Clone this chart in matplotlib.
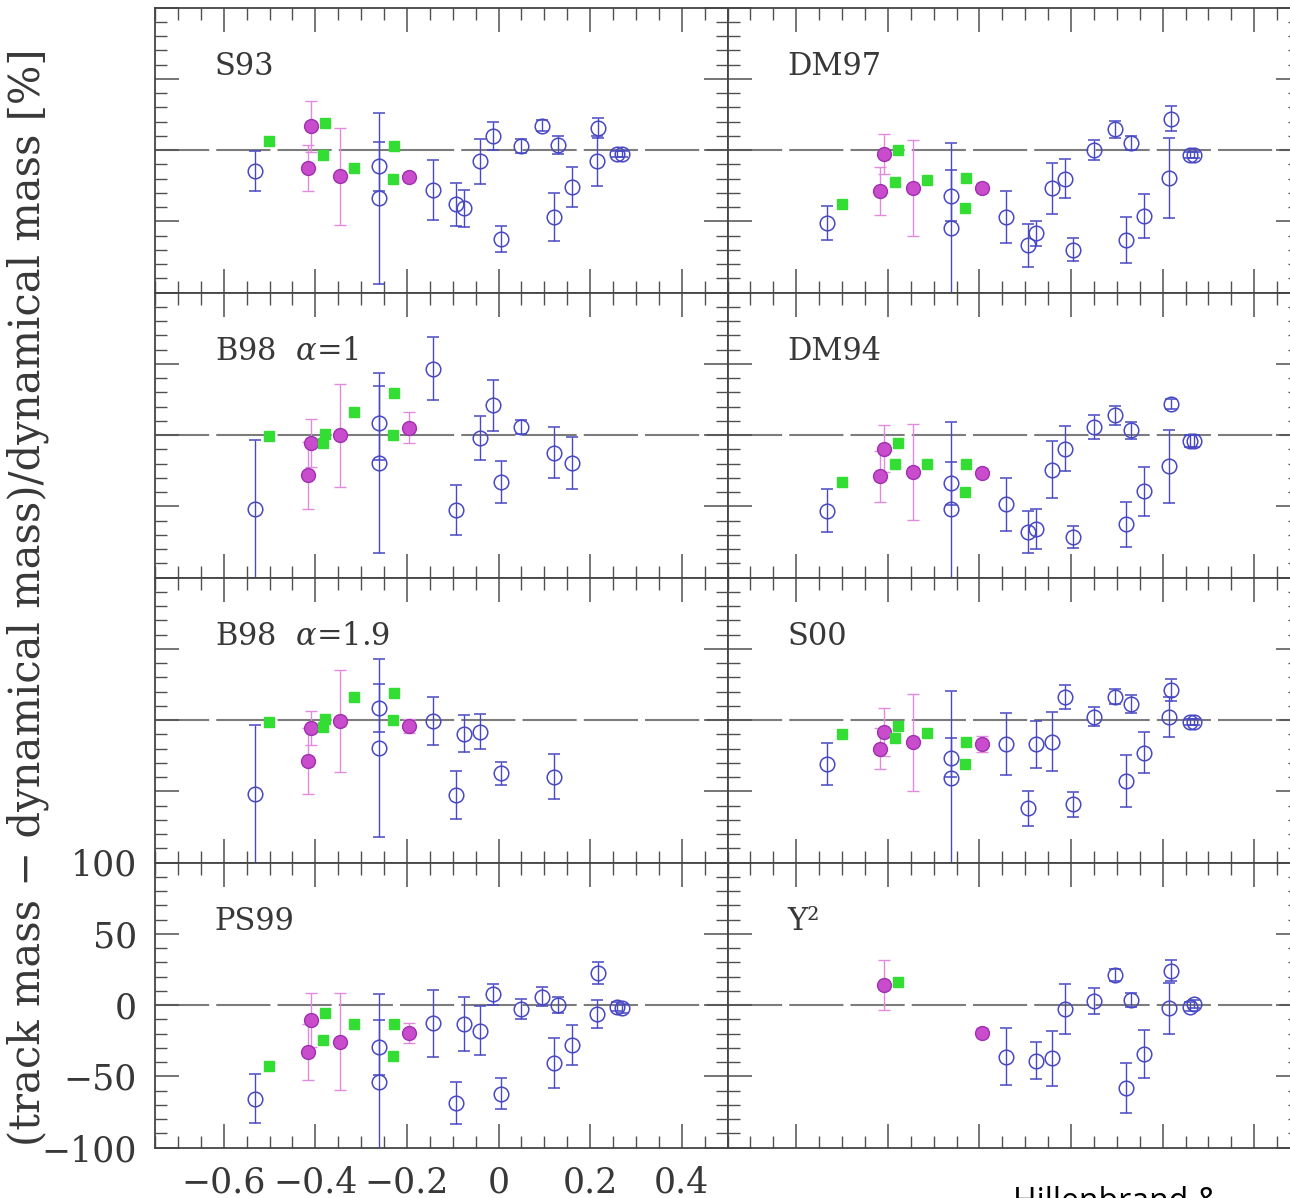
import numpy as np
import matplotlib
matplotlib.use("Agg")
import matplotlib.pyplot as plt
from matplotlib.ticker import FixedLocator, MultipleLocator, FixedFormatter

plt.rcParams['font.family'] = ['DejaVu Serif']
plt.rcParams['mathtext.fontset'] = 'dejavuserif'

nan = np.nan

# ---- star positions (shared by all model panels) ----
blue_x = [-0.532, -0.262, -0.262, -0.143, -0.093, -0.076, -0.041, -0.013, 0.005,
          0.050, 0.095, 0.121, 0.131, 0.160, 0.215, 0.218, 0.259, 0.269]
magenta_x = [-0.409, -0.416, -0.345, -0.195]
green_x = [-0.501, -0.378, -0.384, -0.315, -0.229, -0.231]

# ---- S93 ----
S93_blue_y = [-15, -11.5, -34, -28, -38, -41, -8, 10, -62.5, 3, 17, -47, 3.5, -26, -8, 15.5, -3, -3]
S93_blue_err = [14, 17, 60, 21, 15, 13, 16, 10, 9, 5, 4, 17, 6, 14, 17.5, 7, 2, 2]
S93_mag_y = [16.6, -12.6, -18.4, -18.9]
S93_mag_err = [18, 16, 34, 3]
S93_green_y = [6.2, 19, -3.4, -12.6, 3, -20.7]

# ---- DM97 ----
DM97_blue_y = [-51, -32, -55, -47, -67, -58.5, -27, -20, -70, 0, 14.5, -63, 5, -46.5, -19.5, 22, -3.7, -3.7]
DM97_blue_err = [12, 18, 60, 18, 15, 9, 18, 13.5, 8, 6.8, 6, 16, 5, 15.5, 28, 8.7, 2, 2]
DM97_mag_y = [-3, -28.7, -26.4, -26.4]
DM97_mag_err = [14, 17, 33.6, 3]
DM97_green_y = [-38, 0.2, -22.4, -21.3, -19.4, -40.7]

# ---- B98 alpha = 1 ----
B98a1_blue_y = [-51.8, 8.4, -19.7, 46.6, -52.5, nan, -1.9, 20.8, -33, 5.6, nan, -12.4, nan, -19.7,
                nan, nan, nan, nan]
B98a1_blue_err = [48.5, 26, 63, 22, 17.5, nan, 15.5, 18, 15, 5, nan, 18, nan, 18, nan, nan, nan, nan]
B98a1_mag_y = [-5.6, -28.3, -0.2, 5.2]
B98a1_mag_err = [17, 23.5, 36, 11]
B98a1_green_y = [-1, 1, -5.6, 16, 29.7, -0.2]

# ---- DM94 ----
DM94_blue_y = [-53, -34, -51.8, -48.7, -68, -65.8, -24.4, -9.6, -71.7, 5.6, 13.8, -62.8, 3.3, -39.6,
               -22, 21.5, -4.2, -4.2]
DM94_blue_err = [15, 15, 61, 18.6, 15, 14, 20, 16, 7.5, 8.5, 6.5, 16, 5.8, 17, 25.5, 3.5, 4, 4]
DM94_mag_y = [-9.6, -29, -26, -26.7]
DM94_mag_err = [16.4, 18, 33.7, 3]
DM94_green_y = [-33, -5.4, -20, -20.6, -20.6, -40]

# ---- B98 alpha = 1.9 ----
B98a19_blue_y = [-52, 8.6, -19.9, -0.7, -52.6, -9.8, -8.2, nan, -37.4, nan, nan, -39.7, nan, nan,
                 nan, nan, nan, nan]
B98a19_blue_err = [48.5, 17, 62.5, 17, 17, 13, 12.5, nan, 8, nan, nan, 16, nan, nan, nan, nan, nan, nan]
B98a19_mag_y = [-5.8, -28.7, -0.7, -4.2]
B98a19_mag_err = [12, 23, 35.6, 5]
B98a19_green_y = [-1.6, 0.7, -5.1, 16.4, 19.2, 0]

# ---- S00 ----
S00_blue_y = [-31, -26.4, -40.9, -17, -62, -17, -15.2, 15.9, -59, 2.3, 16.4, -42.8, 11, -22.9,
              2.3, 21, -1.6, -1.6]
S00_blue_err = [14.6, 13.5, 61, 21.6, 12.5, 16.6, 20.5, 8.4, 8.8, 6.7, 5.4, 18, 6.2, 14.4, 14, 8, 2, 2]
S00_mag_y = [-8.6, -20.3, -15.7, -16.8]
S00_mag_err = [17, 14.4, 34, 5.8]
S00_green_y = [-9.8, -4, -12.4, -8.9, -15.2, -30.8]

# ---- PS99 ----
PS99_blue_y = [-65.7, -29.8, -54, -12.9, -68.8, -13.4, -18, 7.5, -62.2, -3, 5.9, -40.6, 0, -28.2,
               -6.3, 22.3, -1.2, -2.3]
PS99_blue_err = [17, 19, 62, 23.5, 15, 18.8, 17, 7.4, 11, 7, 6.5, 17.4, 5.9, 14, 10, 7.9, 3, 3]
PS99_mag_y = [-10.6, -32.9, -25.8, -19.5]
PS99_mag_err = [19, 19.7, 34, 7]
PS99_green_y = [-42.7, -5.9, -24.6, -13.6, -13.6, -35.9]

# ---- Y^2 ----
Y2_blue_y = [nan, nan, nan, -36.3, nan, -39, -37.5, -3, nan, 3, 21, -58, 3.5, -34.4, -2.3, 24, -1.2, 0.7]
Y2_blue_err = [nan, nan, nan, 20, nan, 13, 19, 17.6, nan, 9, 4, 17.6, 4.7, 17, 18, 7.3, 3, 3]
Y2_mag_y = [14, nan, nan, -19.4]
Y2_mag_err = [17.3, nan, nan, 3]
Y2_green_y = [nan, 16, nan, nan, nan, nan]

panel_titles = ["S93", "DM97", r"B98  $\alpha$=1", "DM94", r"B98  $\alpha$=1.9", "S00", "PS99", "Y\u00b2"]

x_tick_values = [-0.6, -0.4, -0.2, 0.0, 0.2, 0.4]
x_tick_labels = ["\u22120.6", "\u22120.4", "\u22120.2", "0", "0.2", "0.4"]
y_tick_values = [-100, -50, 0, 50, 100]
y_tick_labels = ["\u2212100", "\u221250", "0", "50", "100"]

panels = [
    (S93_blue_y, S93_blue_err, S93_mag_y, S93_mag_err, S93_green_y),
    (DM97_blue_y, DM97_blue_err, DM97_mag_y, DM97_mag_err, DM97_green_y),
    (B98a1_blue_y, B98a1_blue_err, B98a1_mag_y, B98a1_mag_err, B98a1_green_y),
    (DM94_blue_y, DM94_blue_err, DM94_mag_y, DM94_mag_err, DM94_green_y),
    (B98a19_blue_y, B98a19_blue_err, B98a19_mag_y, B98a19_mag_err, B98a19_green_y),
    (S00_blue_y, S00_blue_err, S00_mag_y, S00_mag_err, S00_green_y),
    (PS99_blue_y, PS99_blue_err, PS99_mag_y, PS99_mag_err, PS99_green_y),
    (Y2_blue_y, Y2_blue_err, Y2_mag_y, Y2_mag_err, Y2_green_y),
]

BLUE = "#4848c4"
MAG_FACE = "#c84ccc"
MAG_EDGE = "#a030b0"
MAG_BAR = "#e08ae0"
GREEN = "#33dd33"
FRAME = "#454545"
TEXT = "#383838"

W, H = 1290, 1198
fig = plt.figure(figsize=(W / 100, H / 100), dpi=100)

px_left, px_top = 155.0, 7.5
px_w, px_h = 572.5, 285.0


def finite(xs, ys, es=None):
    xs, ys = np.asarray(xs, float), np.asarray(ys, float)
    m = np.isfinite(ys)
    if es is None:
        return xs[m], ys[m]
    es = np.asarray(es, float)
    return xs[m], ys[m], es[m]


for k, (by, be, my, me, gy) in enumerate(panels):
    row, col = divmod(k, 2)
    left = (px_left + col * px_w) / W
    bottom = 1 - (px_top + px_h * (row + 1)) / H
    ax = fig.add_axes([left, bottom, px_w / W, px_h / H])
    ax.set_xlim(-0.75, 0.5)
    ax.set_ylim(-100, 100)

    ax.axhline(0, color="#7c7c7c", lw=1.5, ls=(0, (26, 3.4)), zorder=1)

    x, y, e = finite(blue_x, by, be)
    ax.errorbar(x, y, yerr=e, fmt="o", ms=10.5, mfc="none", mec=BLUE, mew=1.1,
                ecolor=BLUE, elinewidth=1.0, capsize=4.3, capthick=1.0, zorder=3)

    x, y, e = finite(magenta_x, my, me)
    ax.errorbar(x, y, yerr=e, fmt="o", ms=10.0, mfc=MAG_FACE, mec=MAG_EDGE, mew=1.0,
                ecolor=MAG_BAR, elinewidth=1.0, capsize=4.3, capthick=1.0, zorder=3)

    x, y = finite(green_x, gy)
    ax.plot(x, y, "s", ms=7.0, color=GREEN, mec=GREEN, zorder=4)

    ax.text(0.104, 0.763, panel_titles[k], transform=ax.transAxes, fontsize=22,
            color=TEXT, ha="left", va="baseline")

    ax.xaxis.set_major_locator(FixedLocator(x_tick_values))
    ax.xaxis.set_minor_locator(MultipleLocator(0.05))
    ax.yaxis.set_major_locator(FixedLocator(y_tick_values))
    ax.yaxis.set_minor_locator(MultipleLocator(10))
    ax.tick_params(which="both", direction="in", top=True, right=True, bottom=True, left=True,
                   color="#505050", labelcolor=TEXT, labelsize=25, pad=13)
    ax.tick_params(which="major", length=17, width=1.1)
    ax.tick_params(which="minor", length=8.5, width=1.0)
    for sp in ax.spines.values():
        sp.set_color(FRAME)
        sp.set_linewidth(1.3)

    if row == 3 and col == 0:
        ax.xaxis.set_major_formatter(FixedFormatter(x_tick_labels))
        ax.yaxis.set_major_formatter(FixedFormatter(y_tick_labels))
    else:
        ax.tick_params(labelbottom=False, labelleft=False)

fig.text(28 / W, 1 - 597 / H, "(track mass \u2212 dynamical mass)/dynamical mass [%]",
         rotation=90, ha="center", va="center", fontsize=30, color=TEXT)

fig.text(1013 / W, 1 - 1211 / H, "Hillenbrand &", family="Open Sans", fontsize=23,
         color="black", ha="left", va="baseline")

fig.savefig("out.png", dpi=100)
